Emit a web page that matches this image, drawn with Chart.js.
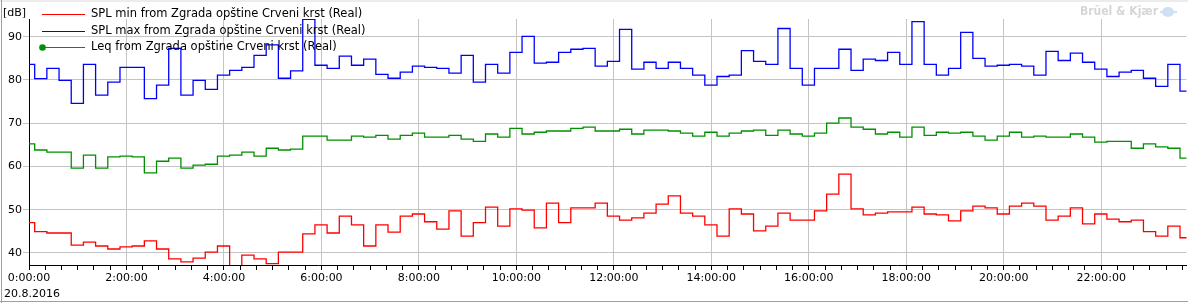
<!DOCTYPE html>
<html>
<head>
<meta charset="utf-8">
<script src="https://cdn.jsdelivr.net/npm/chart.js@4.4.1/dist/chart.umd.min.js"></script>
<style>
  html, body { margin: 0; padding: 0; background: #fff; }
  canvas { display: block; }
</style>
</head>
<body>
<canvas id="splChart" width="1188" height="303"></canvas>
<script>
// interval start times, 15 min each (first one starts on the previous day)
const startTimes = ['23:52',
  '0:07', '0:22', '0:37', '0:52', '1:07', '1:22', '1:37', '1:52', '2:07', '2:22', '2:37', '2:52',
  '3:07', '3:22', '3:37', '3:52', '4:07', '4:22', '4:37', '4:52', '5:07', '5:22', '5:37', '5:52',
  '6:07', '6:22', '6:37', '6:52', '7:07', '7:22', '7:37', '7:52', '8:07', '8:22', '8:37', '8:52',
  '9:07', '9:22', '9:37', '9:52', '10:07', '10:22', '10:37', '10:52', '11:07', '11:22', '11:37', '11:52',
  '12:07', '12:22', '12:37', '12:52', '13:07', '13:22', '13:37', '13:52', '14:07', '14:22', '14:37', '14:52',
  '15:07', '15:22', '15:37', '15:52', '16:07', '16:22', '16:37', '16:52', '17:07', '17:22', '17:37', '17:52',
  '18:07', '18:22', '18:37', '18:52', '19:07', '19:22', '19:37', '19:52', '20:07', '20:22', '20:37', '20:52',
  '21:07', '21:22', '21:37', '21:52', '22:07', '22:22', '22:37', '22:52', '23:07', '23:22', '23:37'];
const intervalMin = 15;

const splMin = [47.0,
  44.9, 44.6, 44.6, 41.8, 42.5, 41.6, 40.9, 41.4, 41.6, 42.8, 40.9, 38.6, 37.9, 38.8, 40.2, 41.6, 36.0, 39.5, 38.6, 37.5, 40.2,
  40.2, 44.4, 46.5, 44.6, 48.5, 46.5, 41.6, 46.5, 44.8, 48.5, 49.0, 47.2, 45.5, 49.7, 43.9, 47.0, 50.6, 46.2, 50.2, 49.9, 45.8, 51.5, 47.0, 50.4, 50.4,
  51.5, 48.5, 47.6, 48.1, 49.2, 51.3, 53.2, 49.2, 48.5, 46.5, 43.9, 50.2, 49.0, 45.1, 46.2, 49.2, 47.6, 47.6, 49.7, 53.6, 58.2, 50.2, 48.8, 49.2,
  49.5, 49.5, 50.6, 49.0, 48.8, 47.4, 49.7, 50.8, 50.4, 49.0, 50.8, 51.5, 50.8, 47.6, 48.5, 50.4, 46.7, 49.0, 47.8, 47.2, 47.6, 44.9, 43.9, 46.2, 43.5];

const splMax = [83.6,
  80.3, 82.7, 79.9, 74.6, 83.6, 76.5, 79.5, 82.9, 82.9, 75.7, 78.8, 87.3, 76.5, 79.9, 77.8, 81.1, 82.2, 82.9, 85.7, 88.1, 80.4,
  82.1, 94.0, 83.4, 82.7, 85.5, 83.4, 84.8, 81.3, 80.4, 81.8, 83.2, 82.9, 82.7, 81.6, 85.7, 79.5, 83.6, 81.6, 86.4, 90.1, 83.9, 84.1, 86.4, 87.1, 87.3,
  83.2, 84.3, 91.7, 82.5, 84.1, 82.7, 84.1, 82.7, 81.1, 78.8, 80.8, 81.1, 86.8, 84.3, 83.6, 91.9, 82.7, 78.8, 82.7, 82.7, 87.1, 82.2, 84.8, 84.5,
  86.4, 83.6, 93.5, 83.6, 81.1, 82.7, 91.0, 85.0, 83.2, 83.4, 83.6, 83.2, 81.1, 86.6, 84.5, 86.2, 84.1, 82.5, 80.8, 81.8, 82.2, 80.4, 78.5, 83.6, 77.4];

const leq = [65.2,
  63.8, 63.3, 63.3, 59.6, 62.6, 59.6, 62.2, 62.4, 62.2, 58.5, 61.2, 61.9, 59.6, 60.3, 60.5, 62.4, 62.6, 63.3, 62.4, 64.2, 63.8,
  64.0, 67.0, 67.0, 66.1, 66.1, 67.0, 66.8, 67.2, 66.3, 67.2, 67.7, 66.8, 66.8, 67.2, 66.3, 65.8, 67.5, 66.8, 68.8, 67.5, 67.9, 68.2, 68.2, 68.8, 69.1,
  68.2, 68.2, 68.6, 67.5, 68.4, 68.4, 68.2, 67.7, 67.0, 67.9, 67.0, 67.7, 68.2, 68.4, 67.2, 68.4, 67.5, 67.0, 67.7, 70.0, 71.2, 69.1, 68.6, 67.5,
  67.9, 66.8, 69.1, 67.2, 67.9, 67.7, 67.9, 67.0, 66.1, 67.0, 67.9, 66.8, 67.0, 66.8, 66.8, 67.5, 66.8, 65.6, 65.8, 65.8, 64.2, 65.2, 64.5, 64.2, 61.9];

const xTickLabels = ['0:00:00', '2:00:00', '4:00:00', '6:00:00', '8:00:00', '10:00:00',
  '12:00:00', '14:00:00', '16:00:00', '18:00:00', '20:00:00', '22:00:00'];
const yTickLabels = [40, 50, 60, 70, 80, 90];
const dateLabel = '20.8.2016';
const labelFont = '11px "DejaVu Sans"';
const legendFont = '11.5px "DejaVu Sans"';

function toMinutes(s, i) {
  const [h, m] = s.split(':').map(Number);
  return h * 60 + m - (i === 0 ? 1440 : 0);
}

// each value holds from its start time until the next one
function steps(values) {
  const pts = values.map((v, i) => ({ x: toMinutes(startTimes[i], i), y: v }));
  pts.push({ x: pts[pts.length - 1].x + intervalMin, y: values[values.length - 1] });
  return pts;
}

const extras = {
  id: 'extras',
  afterDraw(chart) {
    const c = chart.ctx;
    c.save();
    // window frame
    c.fillStyle = '#ececec';
    c.fillRect(0, 0, 1188, 2);
    c.strokeStyle = '#a0a0a0';
    c.lineWidth = 1;
    c.beginPath();
    c.moveTo(1.5, 0); c.lineTo(1.5, 303);
    c.moveTo(0, 301.5); c.lineTo(1188, 301.5);
    c.stroke();

    c.font = labelFont;
    c.fillStyle = '#000';
    c.textBaseline = 'middle';
    c.textAlign = 'left';
    c.fillText('[dB]', 3, 13);
    c.fillText(dateLabel, 4, 294);

    // legend
    c.font = legendFont;
    chart.data.datasets.forEach((ds, i) => {
      const y = Math.round(14 + i * 16.7) + 0.5;
      c.strokeStyle = ds.borderColor;
      c.lineWidth = 1;
      c.beginPath();
      c.moveTo(42, y); c.lineTo(85, y);
      c.stroke();
      if (ds.legendDot) {
        c.fillStyle = ds.borderColor;
        c.beginPath();
        c.arc(42.5, y, 3.3, 0, Math.PI * 2);
        c.fill();
      }
      c.fillStyle = '#000';
      c.fillText(ds.label, 91, y - 0.5);
    });

    // watermark
    c.font = 'bold 12px "DejaVu Sans"';
    c.fillStyle = '#d6d6d6';
    c.fillText('Brüel & Kjær', 1080, 12, 78);
    c.fillStyle = '#cfe0f4';
    c.beginPath();
    c.ellipse(1168, 12, 6, 5, 0, 0, Math.PI * 2);
    c.fill();
    c.fillRect(1160, 11, 17, 2);
    c.restore();
  }
};

new Chart(document.getElementById('splChart'), {
  type: 'line',
  data: {
    datasets: [{
      label: 'SPL min from Zgrada opštine Crveni krst (Real)',
      data: steps(splMin),
      borderColor: '#ff0000'
    }, {
      label: 'SPL max from Zgrada opštine Crveni krst (Real)',
      data: steps(splMax),
      borderColor: '#0000ff'
    }, {
      label: 'Leq from Zgrada opštine Crveni krst (Real)',
      data: steps(leq),
      borderColor: '#009000',
      legendDot: true
    }]
  },
  options: {
    responsive: false,
    animation: false,
    devicePixelRatio: 1,
    layout: { padding: { top: 19, right: 1.5, left: 0, bottom: 0 } },
    elements: {
      point: { radius: 0 },
      line: { stepped: 'before', borderWidth: 1.3, tension: 0, fill: false }
    },
    plugins: { legend: { display: false }, tooltip: { enabled: false } },
    scales: {
      x: {
        type: 'linear',
        min: 0,
        max: 1425,
        afterFit: s => { s.height = 38 },
        afterBuildTicks: s => {
          const t = [];
          for (let v = 0; v <= 1425; v += 20) t.push({ value: v });
          s.ticks = t;
        },
        ticks: {
          autoSkip: false,
          maxRotation: 0,
          padding: 2,
          color: '#000',
          font: { family: 'DejaVu Sans', size: 11 },
          callback: v => v % 120 === 0 ? xTickLabels[v / 120] : ''
        },
        grid: {
          color: c => c.tick && c.tick.value % 120 === 0 ? '#c4c4c4' : 'rgba(0,0,0,0)',
          tickColor: '#000',
          tickLength: 5
        },
        border: { color: '#000', width: 1 }
      },
      y: {
        min: 37.2,
        max: 94.1,
        afterFit: s => { s.width = 29 },
        afterBuildTicks: s => { s.ticks = yTickLabels.map(v => ({ value: v })) },
        ticks: {
          padding: 1,
          color: '#000',
          font: { family: 'DejaVu Sans', size: 11 }
        },
        grid: { color: '#c4c4c4', tickColor: '#c4c4c4', tickLength: 6 },
        border: { color: '#000', width: 1 }
      }
    }
  },
  plugins: [extras]
});
</script>
</body>
</html>
